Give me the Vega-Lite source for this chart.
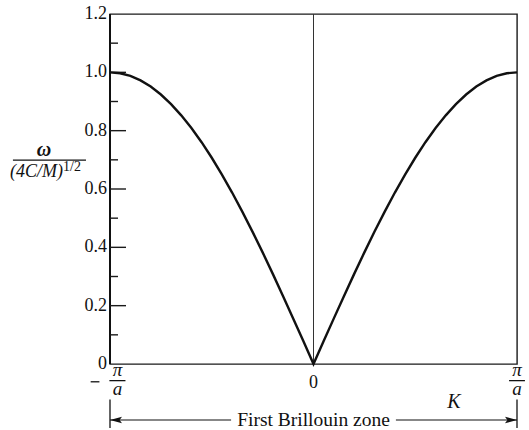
{
  "$schema": "https://vega.github.io/schema/vega-lite/v6.json",
  "width": 407,
  "height": 350,
  "autosize": {"type": "none"},
  "padding": {"left": 110, "top": 14, "right": 12, "bottom": 66},
  "background": "white",
  "config": {
    "view": {"stroke": "#1a1a1a", "strokeWidth": 1.4},
    "text": {"font": "Liberation Serif", "color": "#111"}
  },
  "datasets": {
    "dispersion": [
      {"k": -1.0, "omega": 1.0}, {"k": -0.95, "omega": 0.9969}, {"k": -0.9, "omega": 0.9877},
      {"k": -0.85, "omega": 0.9724}, {"k": -0.8, "omega": 0.9511}, {"k": -0.75, "omega": 0.9239},
      {"k": -0.7, "omega": 0.891}, {"k": -0.65, "omega": 0.8526}, {"k": -0.6, "omega": 0.809},
      {"k": -0.55, "omega": 0.7604}, {"k": -0.5, "omega": 0.7071}, {"k": -0.45, "omega": 0.6494},
      {"k": -0.4, "omega": 0.5878}, {"k": -0.35, "omega": 0.5225}, {"k": -0.3, "omega": 0.454},
      {"k": -0.25, "omega": 0.3827}, {"k": -0.2, "omega": 0.309}, {"k": -0.15, "omega": 0.2334},
      {"k": -0.1, "omega": 0.1564}, {"k": -0.05, "omega": 0.0785}, {"k": 0.0, "omega": 0.0},
      {"k": 0.05, "omega": 0.0785}, {"k": 0.1, "omega": 0.1564}, {"k": 0.15, "omega": 0.2334},
      {"k": 0.2, "omega": 0.309}, {"k": 0.25, "omega": 0.3827}, {"k": 0.3, "omega": 0.454},
      {"k": 0.35, "omega": 0.5225}, {"k": 0.4, "omega": 0.5878}, {"k": 0.45, "omega": 0.6494},
      {"k": 0.5, "omega": 0.7071}, {"k": 0.55, "omega": 0.7604}, {"k": 0.6, "omega": 0.809},
      {"k": 0.65, "omega": 0.8526}, {"k": 0.7, "omega": 0.891}, {"k": 0.75, "omega": 0.9239},
      {"k": 0.8, "omega": 0.9511}, {"k": 0.85, "omega": 0.9724}, {"k": 0.9, "omega": 0.9877},
      {"k": 0.95, "omega": 0.9969}, {"k": 1.0, "omega": 1.0}
    ],
    "majorTicks": [
      {"value": 0.2}, {"value": 0.4}, {"value": 0.6}, {"value": 0.8}, {"value": 1.0}
    ],
    "minorTicks": [
      {"value": 0.1}, {"value": 0.3}, {"value": 0.5}, {"value": 0.7}, {"value": 0.9}, {"value": 1.1}
    ],
    "yLabels": [
      {"value": 0.0, "label": "0"}, {"value": 0.2, "label": "0.2"}, {"value": 0.4, "label": "0.4"},
      {"value": 0.6, "label": "0.6"}, {"value": 0.8, "label": "0.8"}, {"value": 1.0, "label": "1.0"},
      {"value": 1.2, "label": "1.2"}
    ],
    "zoneEnds": [{"k": -1}, {"k": 1}],
    "one": [{}]
  },
  "layer": [
    {
      "data": {"name": "one"},
      "mark": {"type": "rule", "stroke": "#333", "strokeWidth": 1},
      "encoding": {
        "x": {"datum": 0, "type": "quantitative", "scale": {"domain": [-1, 1], "nice": false, "zero": false}, "axis": null},
        "y": {"datum": 0, "type": "quantitative", "scale": {"domain": [0, 1.2], "nice": false}, "axis": null},
        "y2": {"datum": 1.2}
      }
    },
    {
      "data": {"name": "one"},
      "mark": {"type": "rule", "stroke": "#111", "strokeWidth": 2},
      "encoding": {
        "x": {"datum": -1, "type": "quantitative"},
        "y": {"datum": 0, "type": "quantitative"},
        "y2": {"datum": 1.2}
      }
    },
    {
      "data": {"name": "majorTicks"},
      "mark": {"type": "rule", "stroke": "#1a1a1a", "strokeWidth": 1.4},
      "encoding": {
        "x": {"datum": -1, "type": "quantitative"},
        "x2": {"datum": -0.9214},
        "y": {"field": "value", "type": "quantitative"}
      }
    },
    {
      "data": {"name": "minorTicks"},
      "mark": {"type": "rule", "stroke": "#1a1a1a", "strokeWidth": 1.4},
      "encoding": {
        "x": {"datum": -1, "type": "quantitative"},
        "x2": {"datum": -0.9607},
        "y": {"field": "value", "type": "quantitative"}
      }
    },
    {
      "data": {"name": "yLabels"},
      "mark": {"type": "text", "align": "right", "baseline": "middle", "dx": -3, "fontSize": 18},
      "encoding": {
        "x": {"datum": -1, "type": "quantitative"},
        "y": {"field": "value", "type": "quantitative"},
        "text": {"field": "label"}
      }
    },
    {
      "data": {"name": "dispersion"},
      "mark": {"type": "line", "stroke": "#111", "strokeWidth": 2.4, "interpolate": "linear"},
      "encoding": {
        "x": {"field": "k", "type": "quantitative"},
        "y": {"field": "omega", "type": "quantitative"}
      }
    },
    {
      "data": {"name": "one"},
      "mark": {"type": "text", "align": "center", "baseline": "alphabetic", "fontSize": 20, "fontStyle": "italic", "fontWeight": "bold"},
      "encoding": {"x": {"datum": -1.324, "type": "quantitative"}, "y": {"datum": 0.712, "type": "quantitative"}, "text": {"value": "ω"}}
    },
    {
      "data": {"name": "one"},
      "mark": {"type": "rule", "stroke": "#111", "strokeWidth": 1.3},
      "encoding": {"x": {"datum": -1.477, "type": "quantitative"}, "x2": {"datum": -1.118}, "y": {"datum": 0.699, "type": "quantitative"}}
    },
    {
      "data": {"name": "one"},
      "mark": {"type": "text", "align": "right", "baseline": "middle", "fontSize": 18, "fontStyle": "italic"},
      "encoding": {"x": {"datum": -1.231, "type": "quantitative"}, "y": {"datum": 0.66, "type": "quantitative"}, "text": {"value": "(4C/M)"}}
    },
    {
      "data": {"name": "one"},
      "mark": {"type": "text", "align": "left", "baseline": "middle", "fontSize": 14},
      "encoding": {"x": {"datum": -1.231, "type": "quantitative"}, "y": {"datum": 0.676, "type": "quantitative"}, "text": {"value": "1/2"}}
    },
    {
      "data": {"name": "one"},
      "mark": {"type": "text", "align": "center", "baseline": "middle", "fontSize": 18},
      "encoding": {"x": {"datum": 0, "type": "quantitative"}, "y": {"datum": -0.065, "type": "quantitative"}, "text": {"value": "0"}}
    },
    {
      "data": {"name": "one"},
      "mark": {"type": "text", "align": "center", "baseline": "alphabetic", "fontSize": 19, "fontStyle": "italic"},
      "encoding": {"x": {"datum": -0.963, "type": "quantitative"}, "y": {"datum": -0.041, "type": "quantitative"}, "text": {"value": "π"}}
    },
    {
      "data": {"name": "one"},
      "mark": {"type": "text", "align": "center", "baseline": "alphabetic", "fontSize": 19, "fontStyle": "italic"},
      "encoding": {"x": {"datum": -0.963, "type": "quantitative"}, "y": {"datum": -0.105, "type": "quantitative"}, "text": {"value": "a"}}
    },
    {
      "data": {"name": "one"},
      "mark": {"type": "text", "align": "center", "baseline": "alphabetic", "fontSize": 19, "fontStyle": "italic"},
      "encoding": {"x": {"datum": 1.0, "type": "quantitative"}, "y": {"datum": -0.041, "type": "quantitative"}, "text": {"value": "π"}}
    },
    {
      "data": {"name": "one"},
      "mark": {"type": "text", "align": "center", "baseline": "alphabetic", "fontSize": 19, "fontStyle": "italic"},
      "encoding": {"x": {"datum": 1.0, "type": "quantitative"}, "y": {"datum": -0.105, "type": "quantitative"}, "text": {"value": "a"}}
    },
    {
      "data": {"name": "zoneEnds"},
      "mark": {"type": "rule", "stroke": "#111", "strokeWidth": 1.3},
      "encoding": {
        "x": {"field": "k", "type": "quantitative"},
        "y": {"datum": -0.122, "type": "quantitative"},
        "y2": {"datum": -0.219}
      }
    },
    {
      "data": {"name": "one"},
      "mark": {"type": "rule", "stroke": "#111", "strokeWidth": 1.3},
      "encoding": {"x": {"datum": 0.961, "type": "quantitative"}, "x2": {"datum": 1.039}, "y": {"datum": -0.057, "type": "quantitative"}}
    },
    {
      "data": {"name": "one"},
      "mark": {"type": "rule", "stroke": "#111", "strokeWidth": 1.3},
      "encoding": {"x": {"datum": -1.003, "type": "quantitative"}, "x2": {"datum": -0.924}, "y": {"datum": -0.057, "type": "quantitative"}}
    },
    {
      "data": {"name": "one"},
      "mark": {"type": "rule", "stroke": "#111", "strokeWidth": 1.3},
      "encoding": {"x": {"datum": -1.095, "type": "quantitative"}, "x2": {"datum": -1.052}, "y": {"datum": -0.061, "type": "quantitative"}}
    },
    {
      "data": {"name": "one"},
      "mark": {"type": "rule", "stroke": "#111", "strokeWidth": 1.2},
      "encoding": {"x": {"datum": -1.0, "type": "quantitative"}, "x2": {"datum": -0.405}, "y": {"datum": -0.192, "type": "quantitative"}}
    },
    {
      "data": {"name": "one"},
      "mark": {"type": "rule", "stroke": "#111", "strokeWidth": 1.2},
      "encoding": {"x": {"datum": 0.405, "type": "quantitative"}, "x2": {"datum": 1.0}, "y": {"datum": -0.192, "type": "quantitative"}}
    },
    {
      "data": {"name": "one"},
      "mark": {"type": "point", "filled": true, "color": "#111", "opacity": 1, "size": 144, "shape": "M 0 0 L 2 -0.55 L 1.6 0 L 2 0.55 Z"},
      "encoding": {"x": {"datum": -1.0, "type": "quantitative"}, "y": {"datum": -0.192, "type": "quantitative"}}
    },
    {
      "data": {"name": "one"},
      "mark": {"type": "point", "filled": true, "color": "#111", "opacity": 1, "size": 144, "shape": "M 0 0 L -2 -0.55 L -1.6 0 L -2 0.55 Z"},
      "encoding": {"x": {"datum": 1.0, "type": "quantitative"}, "y": {"datum": -0.192, "type": "quantitative"}}
    },
    {
      "data": {"name": "one"},
      "mark": {"type": "text", "align": "center", "baseline": "middle", "fontSize": 19.5},
      "encoding": {"x": {"datum": 0, "type": "quantitative"}, "y": {"datum": -0.192, "type": "quantitative"}, "text": {"value": "First Brillouin zone"}}
    },
    {
      "data": {"name": "one"},
      "mark": {"type": "text", "align": "center", "baseline": "middle", "fontSize": 20, "fontStyle": "italic"},
      "encoding": {"x": {"datum": 0.69, "type": "quantitative"}, "y": {"datum": -0.1286, "type": "quantitative"}, "text": {"value": "K"}}
    }
  ]
}
